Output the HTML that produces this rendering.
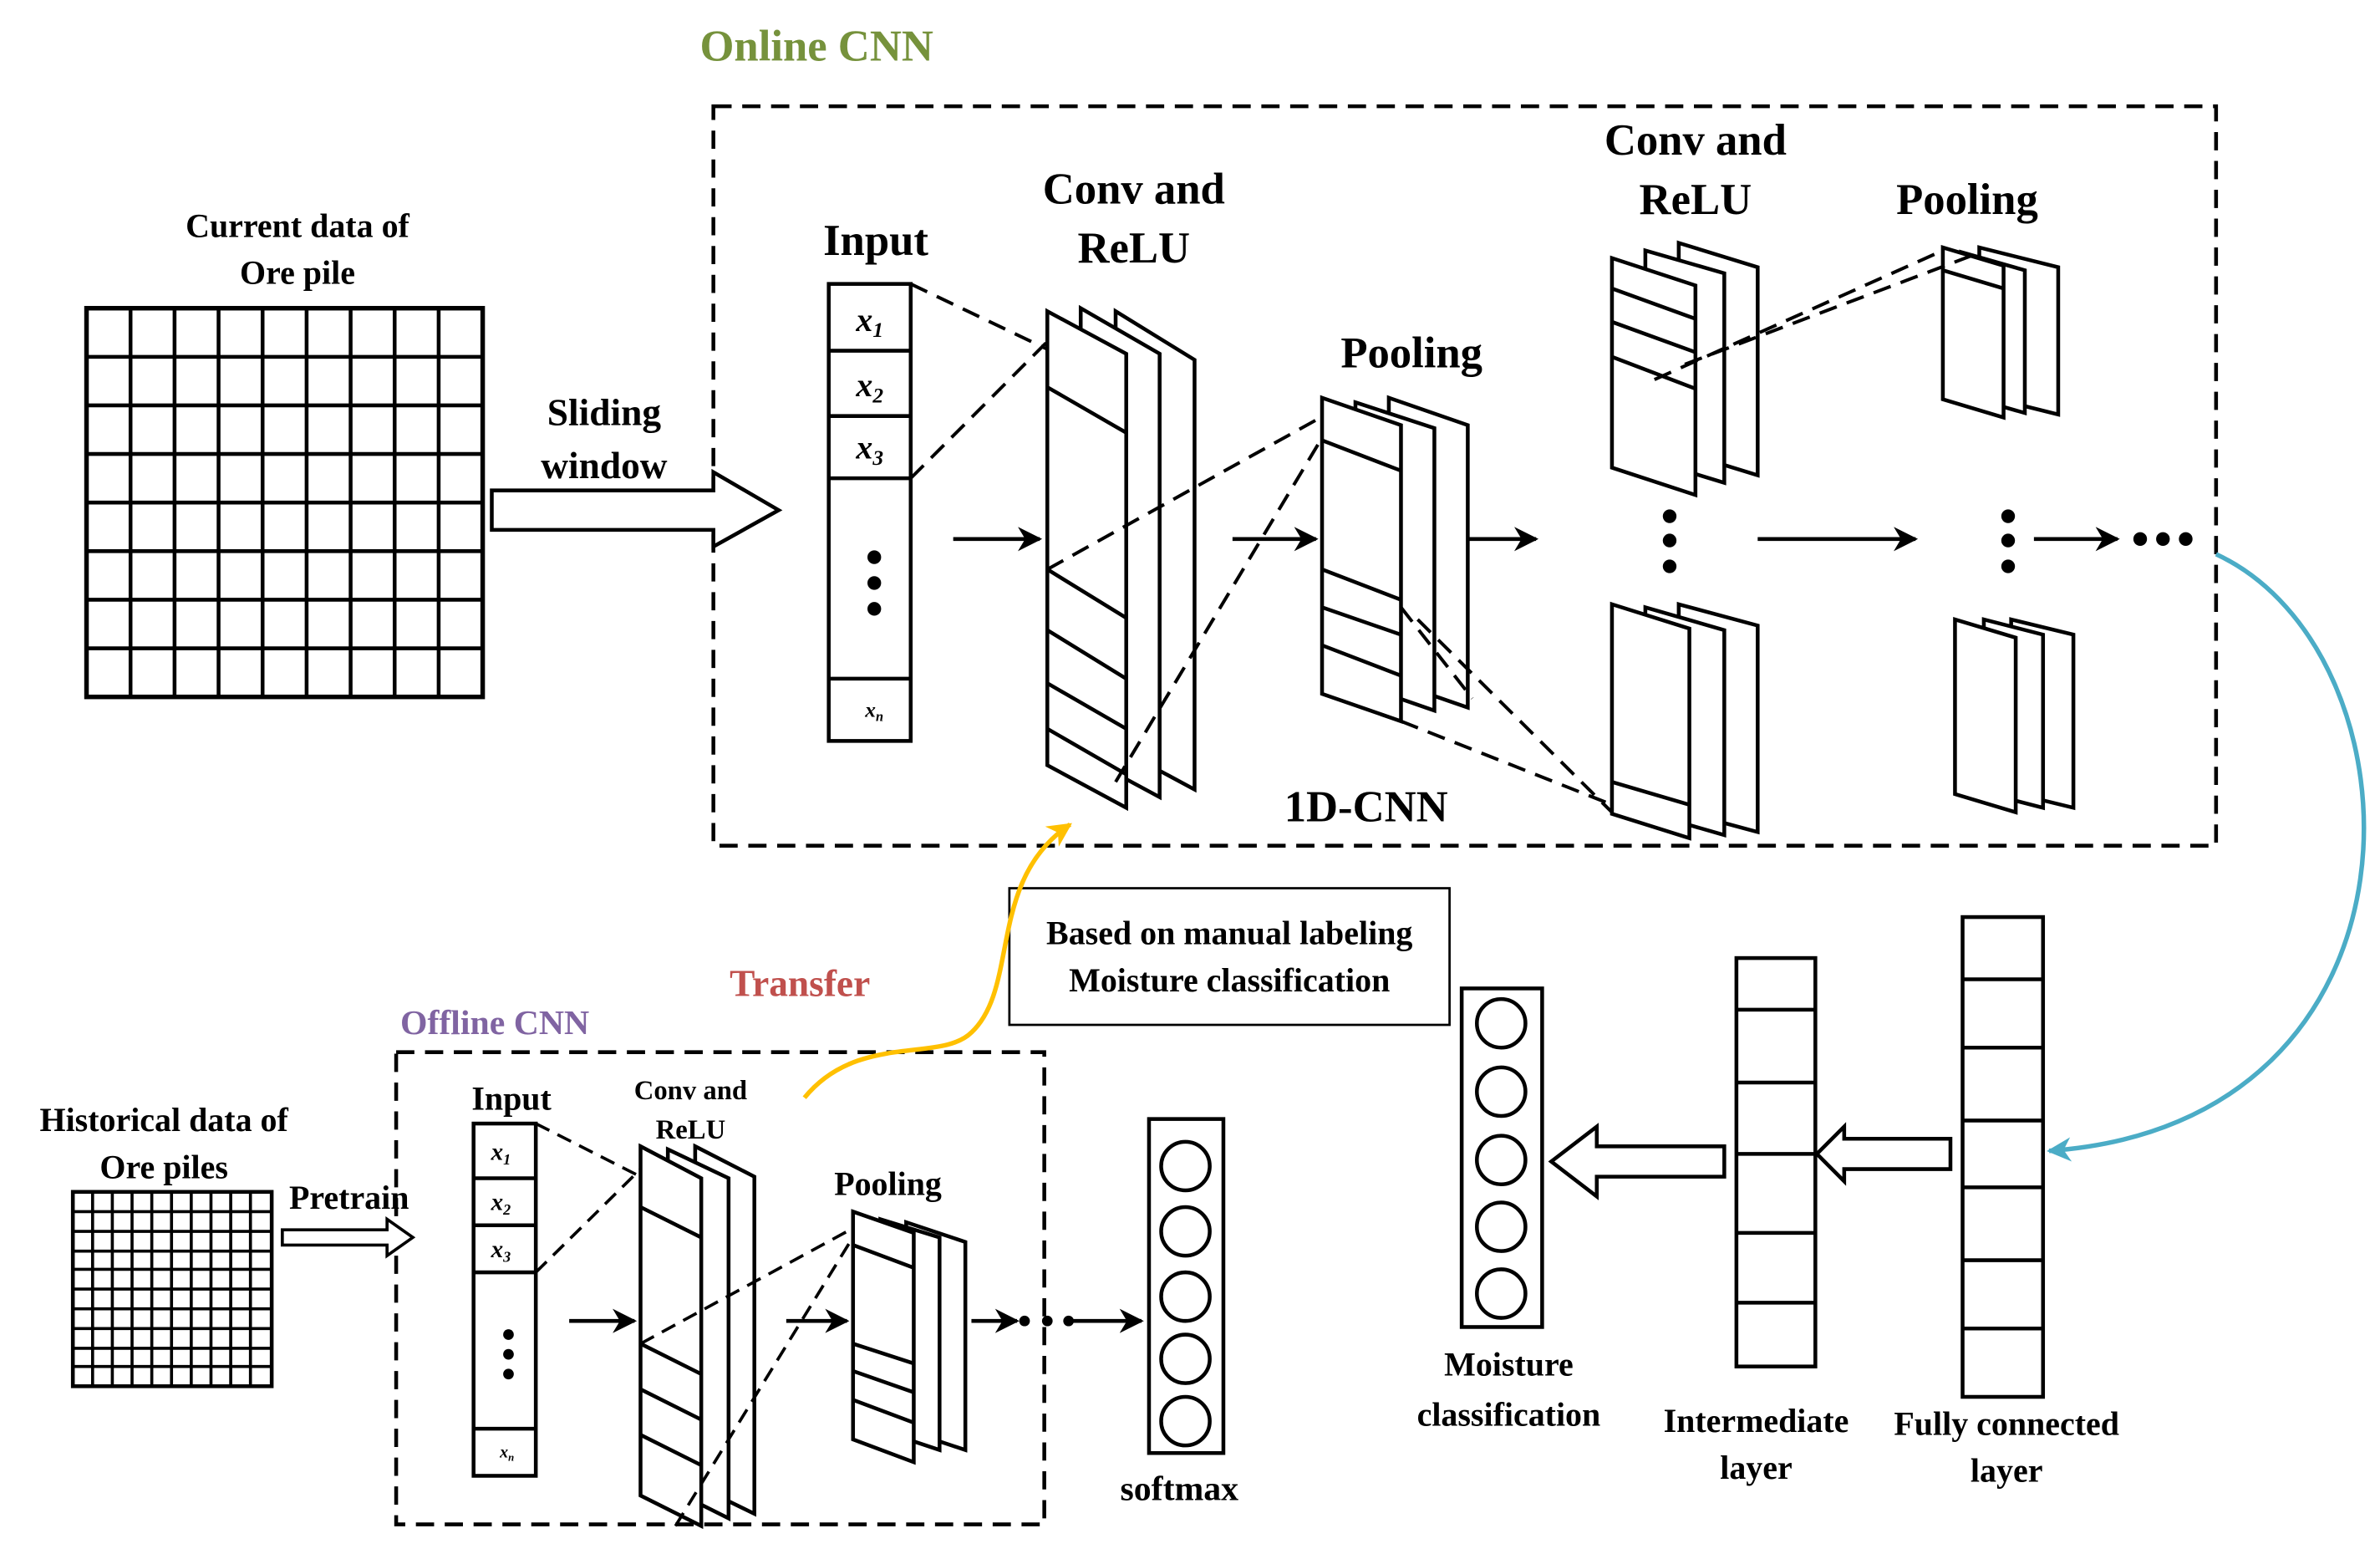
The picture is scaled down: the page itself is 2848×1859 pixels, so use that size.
<!DOCTYPE html>
<html><head><meta charset="utf-8"><style>
html,body{margin:0;padding:0;background:#fff;}
svg{display:block}
text{font-family:"Liberation Serif",serif;font-weight:bold;text-anchor:middle;fill:#000}
</style></head><body>
<svg width="2848" height="1859" viewBox="0 0 1568 1023.5" preserveAspectRatio="none" xmlns="http://www.w3.org/2000/svg">
<defs>
<marker id="a2" viewBox="0 0 10 10" refX="9" refY="5" markerWidth="18" markerHeight="16" orient="auto" markerUnits="userSpaceOnUse"><path d="M0,0 L10,5 L0,10 L3,5 z" fill="#000"/></marker>
<marker id="ab" viewBox="0 0 10 10" refX="9" refY="5" markerWidth="20" markerHeight="16" orient="auto" markerUnits="userSpaceOnUse"><path d="M0,0 L10,5 L0,10 L3,5 z" fill="#4bacc6"/></marker>
<marker id="ay" viewBox="0 0 10 10" refX="9" refY="5" markerWidth="20" markerHeight="16" orient="auto" markerUnits="userSpaceOnUse"><path d="M0,0 L10,5 L0,10 L3,5 z" fill="#ffc000"/></marker>
</defs>
<g stroke="#000" stroke-width="2.5" fill="none">
<rect x="470" y="70" width="990" height="487" stroke-dasharray="12,7"/>
<rect x="261" y="693" width="427" height="311" stroke-dasharray="12,7"/>
<rect x="57" y="203" width="261" height="256" stroke-width="3"/>
<path d="M86,203V459M115,203V459M144,203V459M173,203V459M202,203V459M231,203V459M260,203V459M289,203V459
M57,235H318M57,267H318M57,299H318M57,331H318M57,363H318M57,395H318M57,427H318"/>
<rect x="48" y="785" width="131" height="128" stroke-width="2.5"/>
<path stroke-width="2" d="M61,785V913M74,785V913M87,785V913M100,785V913M113,785V913M126,785V913M139,785V913M152,785V913M165,785V913
M48,798H179M48,811H179M48,824H179M48,836H179M48,849H179M48,862H179M48,875H179M48,888H179M48,900H179"/>
<path d="M324,323H470V311L513,336L470,360V349H324Z" fill="#fff"/>
<path d="M186,810H255V803L272,815L255,827V820H186Z" fill="#fff" stroke-width="2"/>
<path d="M1285,750H1215V742L1197,760L1215,778V770H1285Z" fill="#fff"/>
<path d="M1136,755H1052V742L1022,765L1052,788V775H1136Z" fill="#fff"/>
<rect x="546" y="187" width="54" height="301" fill="#fff"/>
<path d="M546,231H600M546,274H600M546,315H600M546,447H600"/>
<path d="M735,205L787,237V520L735,492Z" fill="#fff"/>
<path d="M712,203L764,233V525L712,497Z" fill="#fff"/>
<path d="M690,205L742,233V532L690,504Z" fill="#fff"/>
<path d="M690,255L742,285M690,375L742,407M690,415L742,447M690,450L742,480M690,480L742,510"/>
<path d="M915,262L967,280V466L915,448Z" fill="#fff"/>
<path d="M893,265L945,282V468L893,450Z" fill="#fff"/>
<path d="M871,262L923,280V475L871,457Z" fill="#fff"/>
<path d="M871,290L923,310M871,375L923,395M871,400L923,418M871,425L923,445"/>
<path d="M1106,160L1158,176V313L1106,297Z" fill="#fff"/>
<path d="M1084,165L1136,180V318L1084,302Z" fill="#fff"/>
<path d="M1062,170L1117,188V326L1062,308Z" fill="#fff"/>
<path d="M1062,190L1117,210M1062,212L1117,232M1062,235L1117,256"/>
<path d="M1106,398L1158,412V548L1106,534Z" fill="#fff"/>
<path d="M1084,400L1136,415V550L1084,535Z" fill="#fff"/>
<path d="M1062,398L1113,414V552L1062,536Z" fill="#fff"/>
<path d="M1062,515L1113,530"/>
<path d="M1304,163L1356,176V273L1304,260Z" fill="#fff"/>
<path d="M1292,166L1334,178V272L1292,260Z" fill="#fff"/>
<path d="M1280,163L1320,175V275L1280,263Z" fill="#fff"/>
<path d="M1280,178L1320,190"/>
<path d="M1325,408L1366,418V532L1325,522Z" fill="#fff"/>
<path d="M1307,408L1346,418V532L1307,522Z" fill="#fff"/>
<path d="M1288,408L1328,420V535L1288,523Z" fill="#fff"/>
<g stroke-dasharray="12,7" stroke-width="2.2">
<path d="M600,187L690,230M600,315L690,225M690,375L870,275M735,515L870,290"/>
<path d="M923,400L970,460M923,475L1062,530M934,408L1062,535M1090,250L1280,165M1110,240L1300,168"/>
</g>
<g marker-end="url(#a2)">
<path d="M628,355H685"/><path d="M812,355H867"/><path d="M968,355H1012"/><path d="M1158,355H1262"/><path d="M1340,355H1395"/>
<path d="M375,870H418"/><path d="M518,870H558"/><path d="M640,870H670"/><path d="M705,870H752"/>
</g>
<rect x="1293" y="604" width="53" height="316"/>
<path d="M1293,645H1346M1293,690H1346M1293,738H1346M1293,782H1346M1293,830H1346M1293,875H1346"/>
<rect x="1144" y="631" width="52" height="269"/>
<path d="M1144,665H1196M1144,713H1196M1144,760H1196M1144,812H1196M1144,858H1196"/>
<rect x="963" y="651" width="53" height="223"/>
<circle cx="989" cy="674" r="16"/><circle cx="989" cy="719" r="16"/><circle cx="989" cy="764" r="16"/><circle cx="989" cy="808" r="16"/><circle cx="989" cy="852" r="16"/>
<rect x="757" y="737" width="49" height="220"/>
<circle cx="781" cy="768" r="16"/><circle cx="781" cy="811" r="16"/><circle cx="781" cy="854" r="16"/><circle cx="781" cy="895" r="16"/><circle cx="781" cy="936" r="16"/>
<rect x="665" y="585" width="290" height="90" stroke-width="1.5"/>
<rect x="312" y="740" width="41" height="232" fill="#fff"/>
<path d="M312,776H353M312,807H353M312,838H353M312,941H353"/>
<path d="M458,755L497,775V997L458,978Z" fill="#fff"/>
<path d="M440,757L480,776V1000L440,980Z" fill="#fff"/>
<path d="M422,755L462,776V1005L422,985Z" fill="#fff"/>
<path d="M422,795L462,815M422,885L462,905M422,915L462,935M422,945L462,965"/>
<path d="M597,805L636,818V955L597,942Z" fill="#fff"/>
<path d="M580,803L619,815V955L580,942Z" fill="#fff"/>
<path d="M562,798L602,812V963L562,948Z" fill="#fff"/>
<path d="M562,820L602,835M562,885L602,898M562,903L602,917M562,922L602,937"/>
<g stroke-dasharray="10,6" stroke-width="2">
<path d="M353,740L422,775M353,838L422,770M422,885L560,810M445,1005L560,818"/>
</g>
<path d="M1460,365C1600,430,1610,740,1350,758" stroke="#4bacc6" stroke-width="3" marker-end="url(#ab)"/>
<path d="M530,723C565,680,620,700,640,680C672,650,650,580,705,543" stroke="#ffc000" stroke-width="3" marker-end="url(#ay)"/>
</g>
<g fill="#000">
<circle cx="576" cy="367" r="4.5"/><circle cx="576" cy="384" r="4.5"/><circle cx="576" cy="401" r="4.5"/>
<circle cx="1100" cy="340" r="4.5"/><circle cx="1100" cy="356" r="4.5"/><circle cx="1100" cy="373" r="4.5"/>
<circle cx="1323" cy="340" r="4.5"/><circle cx="1323" cy="356" r="4.5"/><circle cx="1323" cy="373" r="4.5"/>
<circle cx="1410" cy="355" r="4.5"/><circle cx="1425" cy="355" r="4.5"/><circle cx="1440" cy="355" r="4.5"/>
<circle cx="335" cy="879" r="3.5"/><circle cx="335" cy="892" r="3.5"/><circle cx="335" cy="905" r="3.5"/>
<circle cx="675" cy="870" r="3.5"/><circle cx="690" cy="870" r="3.5"/><circle cx="704" cy="870" r="3.5"/>
</g>
<text x="538" y="40" font-size="29" style="fill:#76923c">Online CNN</text>
<text x="196" y="156" font-size="22">Current data of</text>
<text x="196" y="187" font-size="22">Ore pile</text>
<text x="398" y="280" font-size="25">Sliding</text>
<text x="398" y="315" font-size="25">window</text>
<text x="577" y="168" font-size="29">Input</text>
<text x="747" y="134" font-size="29">Conv and</text>
<text x="747" y="173" font-size="29">ReLU</text>
<text x="930" y="242" font-size="29">Pooling</text>
<text x="1117" y="102" font-size="29">Conv and</text>
<text x="1117" y="141" font-size="29">ReLU</text>
<text x="1296" y="141" font-size="29">Pooling</text>
<text x="900" y="541" font-size="29">1D-CNN</text>
<g font-style="italic" font-size="22"><text x="573" y="218">x<tspan font-size="14" dy="4">1</tspan></text><text x="573" y="261">x<tspan font-size="14" dy="4">2</tspan></text><text x="573" y="302">x<tspan font-size="14" dy="4">3</tspan></text></g>
<text x="576" y="472" font-size="14" font-style="italic" font-weight="normal">x<tspan font-size="9" dy="3">n</tspan></text>
<text x="810" y="622" font-size="22">Based on manual labeling</text>
<text x="810" y="653" font-size="22">Moisture classification</text>
<text x="527" y="656" font-size="25" style="fill:#c0504d">Transfer</text>
<text x="326" y="681" font-size="23" style="fill:#8064a2">Offline CNN</text>
<text x="108" y="745" font-size="22">Historical data of</text>
<text x="108" y="776" font-size="22">Ore piles</text>
<text x="230" y="796" font-size="22">Pretrain</text>
<text x="337" y="731" font-size="22">Input</text>
<text x="455" y="724" font-size="18">Conv and</text>
<text x="455" y="750" font-size="18">ReLU</text>
<text x="585" y="787" font-size="22">Pooling</text>
<g font-style="italic" font-size="16"><text x="330" y="764">x<tspan font-size="10" dy="3">1</tspan></text><text x="330" y="797">x<tspan font-size="10" dy="3">2</tspan></text><text x="330" y="828">x<tspan font-size="10" dy="3">3</tspan></text></g>
<text x="334" y="960" font-size="11" font-style="italic" font-weight="normal">x<tspan font-size="7" dy="2">n</tspan></text>
<text x="777" y="988" font-size="23">softmax</text>
<text x="994" y="906" font-size="22">Moisture</text>
<text x="994" y="939" font-size="22">classification</text>
<text x="1157" y="943" font-size="22">Intermediate</text>
<text x="1157" y="974" font-size="22">layer</text>
<text x="1322" y="945" font-size="22">Fully connected</text>
<text x="1322" y="976" font-size="22">layer</text>
</svg>
</body></html>
